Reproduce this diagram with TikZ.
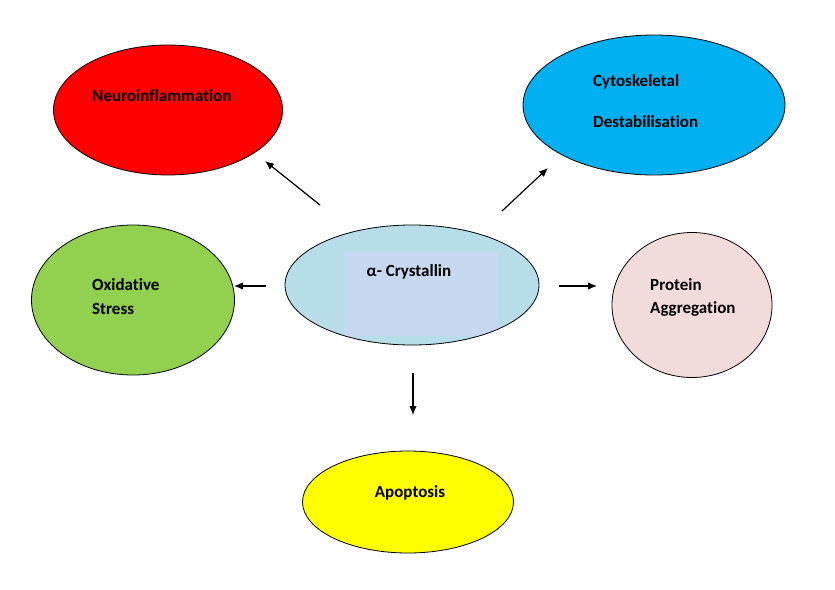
\documentclass[tikz,border=0pt]{standalone}
\usepackage{fontspec}
\setmainfont{Carlito}[Ligatures={NoCommon}]
\usetikzlibrary{shapes.geometric,arrows.meta}
\definecolor{neured}{RGB}{255,0,0}
\definecolor{cytoblue}{RGB}{0,176,240}
\definecolor{oxigreen}{RGB}{146,208,80}
\definecolor{protpink}{RGB}{242,220,219}
\definecolor{apoyellow}{RGB}{255,255,0}
\definecolor{crysblue}{RGB}{183,221,232}
\definecolor{crysbox}{RGB}{198,217,241}
\tikzset{blob/.style={ellipse, draw=black, line width=0.8pt, inner sep=0pt},
  txt/.style={font=\fontsize{17}{20}\selectfont\bfseries, inner sep=0pt}}

\begin{document}
\begin{tikzpicture}[x=1pt,y=-1pt,>={Latex[length=9pt,width=7.5pt]}]
\useasboundingbox (0,0) rectangle (835,589);

\node [blob, fill=neured, minimum width=229pt, minimum height=130pt] (neuro) at (168,110) {};
\node [blob, fill=cytoblue, minimum width=262pt, minimum height=140pt] (cyto) at (654,105) {};
\node [blob, fill=oxigreen, minimum width=203pt, minimum height=150pt] (oxi) at (133,300) {};
\node [blob, fill=protpink, minimum width=160pt, minimum height=145pt] (prot) at (692,305) {};
\node [blob, fill=apoyellow, minimum width=211pt, minimum height=102pt] (apop) at (408,502) {};
\node [blob, fill=crysblue, minimum width=254pt, minimum height=120pt] (crys) at (412,285) {};
\begin{scope}
\clip (412,285) ellipse [x radius=126, y radius=59];
\fill [crysbox] (344,252) rectangle (498,336);
\end{scope}

\node [txt] (neurotxt) at (162,96) {Neuroinflammation};
\node [txt, anchor=west] (cytotxt) at (593,82) {Cytoskeletal};
\node [txt, anchor=west] (destxt) at (593,122) {Destabilisation};
\node [txt, anchor=west] (oxitxt) at (92,285) {Oxidative};
\node [txt, anchor=west] (strtxt) at (92,309) {Stress};
\node [txt, anchor=west] (prottxt) at (650,285) {Protein};
\node [txt, anchor=west] (aggtxt) at (650,309) {Aggregation};
\node [txt] (apoptxt) at (410,493) {Apoptosis};
\node [txt] (crystxt) at (409,272) {α- Crystallin};

\coordinate (nw1) at (320,205); \coordinate (nw2) at (265,161);
\coordinate (ne1) at (502,211); \coordinate (ne2) at (548,168);
\coordinate (w1) at (266,286); \coordinate (w2) at (234,286);
\coordinate (e1) at (559,286); \coordinate (e2) at (597,286);
\coordinate (s1) at (413,373); \coordinate (s2) at (413,415);
\draw [->, very thick] (nw1)--(nw2);
\draw [->, very thick] (ne1)--(ne2);
\draw [->, very thick] (w1)--(w2);
\draw [->, very thick] (e1)--(e2);
\draw [->, very thick] (s1)--(s2);

\end{tikzpicture}
\end{document}
